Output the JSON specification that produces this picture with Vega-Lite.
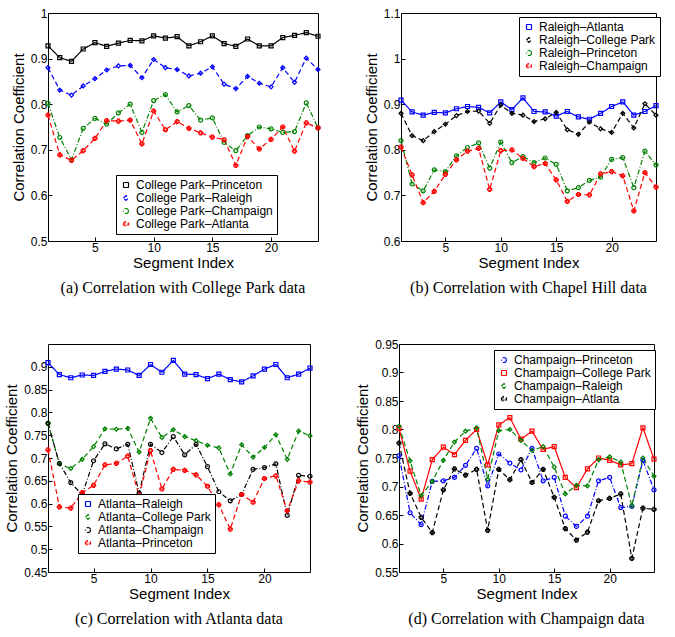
{
  "$schema": "https://vega.github.io/schema/vega-lite/v6.json",
  "background": "white",
  "padding": {"left": 4, "top": 6, "right": 2, "bottom": 0},
  "config": {
    "font": "Liberation Sans",
    "view": {"stroke": "black", "strokeWidth": 1},
    "axis": {"grid": false, "domain": false, "tickColor": "black", "ticks": true, "tickSize": -4, "labelFontSize": 12, "labelColor": "black", "titleFontSize": 15, "titleFontWeight": "normal", "titleColor": "black", "labelPadding": 5},
    "legend": {"orient": "none", "strokeColor": "black", "fillColor": "white", "padding": 4, "labelFontSize": 12, "labelColor": "black", "symbolSize": 25, "symbolStrokeWidth": 1.2, "rowPadding": 1, "cornerRadius": 0},
    "title": {"orient": "bottom", "font": "Liberation Serif", "fontSize": 16, "fontWeight": "normal", "offset": 10},
    "concat": {"spacing": 40}
  },
  "resolve": {"scale": {"color": "independent", "shape": "independent", "strokeDash": "independent", "y": "independent"}, "legend": {"color": "independent", "shape": "independent", "strokeDash": "independent"}},
  "datasets": {
    "a": [
      {"i":1,"College Park–Princeton":0.928,"College Park–Raleigh":0.880,"College Park–Champaign":0.802,"College Park–Atlanta":0.776},
      {"i":2,"College Park–Princeton":0.902,"College Park–Raleigh":0.831,"College Park–Champaign":0.727,"College Park–Atlanta":0.689},
      {"i":3,"College Park–Princeton":0.894,"College Park–Raleigh":0.820,"College Park–Champaign":0.678,"College Park–Atlanta":0.677},
      {"i":4,"College Park–Princeton":0.921,"College Park–Raleigh":0.840,"College Park–Champaign":0.747,"College Park–Atlanta":0.698},
      {"i":5,"College Park–Princeton":0.935,"College Park–Raleigh":0.856,"College Park–Champaign":0.769,"College Park–Atlanta":0.725},
      {"i":6,"College Park–Princeton":0.927,"College Park–Raleigh":0.875,"College Park–Champaign":0.756,"College Park–Atlanta":0.764},
      {"i":7,"College Park–Princeton":0.934,"College Park–Raleigh":0.884,"College Park–Champaign":0.781,"College Park–Atlanta":0.763},
      {"i":8,"College Park–Princeton":0.940,"College Park–Raleigh":0.885,"College Park–Champaign":0.800,"College Park–Atlanta":0.765},
      {"i":9,"College Park–Princeton":0.939,"College Park–Raleigh":0.858,"College Park–Champaign":0.738,"College Park–Atlanta":0.713},
      {"i":10,"College Park–Princeton":0.950,"College Park–Raleigh":0.898,"College Park–Champaign":0.808,"College Park–Atlanta":0.785},
      {"i":11,"College Park–Princeton":0.945,"College Park–Raleigh":0.880,"College Park–Champaign":0.821,"College Park–Atlanta":0.744},
      {"i":12,"College Park–Princeton":0.948,"College Park–Raleigh":0.876,"College Park–Champaign":0.783,"College Park–Atlanta":0.762},
      {"i":13,"College Park–Princeton":0.928,"College Park–Raleigh":0.862,"College Park–Champaign":0.797,"College Park–Atlanta":0.747},
      {"i":14,"College Park–Princeton":0.937,"College Park–Raleigh":0.868,"College Park–Champaign":0.765,"College Park–Atlanta":0.737},
      {"i":15,"College Park–Princeton":0.950,"College Park–Raleigh":0.882,"College Park–Champaign":0.770,"College Park–Atlanta":0.728},
      {"i":16,"College Park–Princeton":0.933,"College Park–Raleigh":0.844,"College Park–Champaign":0.716,"College Park–Atlanta":0.722},
      {"i":17,"College Park–Princeton":0.927,"College Park–Raleigh":0.834,"College Park–Champaign":0.698,"College Park–Atlanta":0.666},
      {"i":18,"College Park–Princeton":0.943,"College Park–Raleigh":0.861,"College Park–Champaign":0.731,"College Park–Atlanta":0.729},
      {"i":19,"College Park–Princeton":0.928,"College Park–Raleigh":0.846,"College Park–Champaign":0.750,"College Park–Atlanta":0.702},
      {"i":20,"College Park–Princeton":0.928,"College Park–Raleigh":0.838,"College Park–Champaign":0.746,"College Park–Atlanta":0.723},
      {"i":21,"College Park–Princeton":0.946,"College Park–Raleigh":0.880,"College Park–Champaign":0.738,"College Park–Atlanta":0.750},
      {"i":22,"College Park–Princeton":0.951,"College Park–Raleigh":0.848,"College Park–Champaign":0.740,"College Park–Atlanta":0.697},
      {"i":23,"College Park–Princeton":0.957,"College Park–Raleigh":0.901,"College Park–Champaign":0.803,"College Park–Atlanta":0.759},
      {"i":24,"College Park–Princeton":0.949,"College Park–Raleigh":0.876,"College Park–Champaign":0.748,"College Park–Atlanta":0.748}
    ],
    "b": [
      {"i":1,"Raleigh–Atlanta":0.909,"Raleigh–College Park":0.880,"Raleigh–Princeton":0.820,"Raleigh–Champaign":0.806},
      {"i":2,"Raleigh–Atlanta":0.883,"Raleigh–College Park":0.831,"Raleigh–Princeton":0.725,"Raleigh–Champaign":0.745},
      {"i":3,"Raleigh–Atlanta":0.876,"Raleigh–College Park":0.820,"Raleigh–Princeton":0.710,"Raleigh–Champaign":0.684},
      {"i":4,"Raleigh–Atlanta":0.882,"Raleigh–College Park":0.840,"Raleigh–Princeton":0.756,"Raleigh–Champaign":0.709},
      {"i":5,"Raleigh–Atlanta":0.881,"Raleigh–College Park":0.856,"Raleigh–Princeton":0.752,"Raleigh–Champaign":0.746},
      {"i":6,"Raleigh–Atlanta":0.890,"Raleigh–College Park":0.875,"Raleigh–Princeton":0.787,"Raleigh–Champaign":0.778},
      {"i":7,"Raleigh–Atlanta":0.895,"Raleigh–College Park":0.884,"Raleigh–Princeton":0.805,"Raleigh–Champaign":0.797},
      {"i":8,"Raleigh–Atlanta":0.893,"Raleigh–College Park":0.885,"Raleigh–Princeton":0.815,"Raleigh–Champaign":0.803},
      {"i":9,"Raleigh–Atlanta":0.881,"Raleigh–College Park":0.858,"Raleigh–Princeton":0.760,"Raleigh–Champaign":0.713},
      {"i":10,"Raleigh–Atlanta":0.905,"Raleigh–College Park":0.898,"Raleigh–Princeton":0.817,"Raleigh–Champaign":0.798},
      {"i":11,"Raleigh–Atlanta":0.888,"Raleigh–College Park":0.880,"Raleigh–Princeton":0.772,"Raleigh–Champaign":0.800},
      {"i":12,"Raleigh–Atlanta":0.914,"Raleigh–College Park":0.876,"Raleigh–Princeton":0.785,"Raleigh–Champaign":0.781},
      {"i":13,"Raleigh–Atlanta":0.884,"Raleigh–College Park":0.862,"Raleigh–Princeton":0.772,"Raleigh–Champaign":0.763},
      {"i":14,"Raleigh–Atlanta":0.883,"Raleigh–College Park":0.868,"Raleigh–Princeton":0.782,"Raleigh–Champaign":0.770},
      {"i":15,"Raleigh–Atlanta":0.874,"Raleigh–College Park":0.882,"Raleigh–Princeton":0.768,"Raleigh–Champaign":0.734},
      {"i":16,"Raleigh–Atlanta":0.884,"Raleigh–College Park":0.844,"Raleigh–Princeton":0.710,"Raleigh–Champaign":0.687},
      {"i":17,"Raleigh–Atlanta":0.872,"Raleigh–College Park":0.834,"Raleigh–Princeton":0.717,"Raleigh–Champaign":0.702},
      {"i":18,"Raleigh–Atlanta":0.867,"Raleigh–College Park":0.861,"Raleigh–Princeton":0.733,"Raleigh–Champaign":0.701},
      {"i":19,"Raleigh–Atlanta":0.880,"Raleigh–College Park":0.846,"Raleigh–Princeton":0.740,"Raleigh–Champaign":0.747},
      {"i":20,"Raleigh–Atlanta":0.895,"Raleigh–College Park":0.838,"Raleigh–Princeton":0.779,"Raleigh–Champaign":0.752},
      {"i":21,"Raleigh–Atlanta":0.905,"Raleigh–College Park":0.880,"Raleigh–Princeton":0.783,"Raleigh–Champaign":0.743},
      {"i":22,"Raleigh–Atlanta":0.876,"Raleigh–College Park":0.848,"Raleigh–Princeton":0.717,"Raleigh–Champaign":0.666},
      {"i":23,"Raleigh–Atlanta":0.884,"Raleigh–College Park":0.901,"Raleigh–Princeton":0.797,"Raleigh–Champaign":0.750},
      {"i":24,"Raleigh–Atlanta":0.897,"Raleigh–College Park":0.876,"Raleigh–Princeton":0.767,"Raleigh–Champaign":0.718}
    ],
    "c": [
      {"i":1,"Atlanta–Raleigh":0.909,"Atlanta–College Park":0.776,"Atlanta–Champaign":0.776,"Atlanta–Princeton":0.718},
      {"i":2,"Atlanta–Raleigh":0.883,"Atlanta–College Park":0.687,"Atlanta–Champaign":0.688,"Atlanta–Princeton":0.593},
      {"i":3,"Atlanta–Raleigh":0.876,"Atlanta–College Park":0.677,"Atlanta–Champaign":0.646,"Atlanta–Princeton":0.590},
      {"i":4,"Atlanta–Raleigh":0.882,"Atlanta–College Park":0.697,"Atlanta–Champaign":0.619,"Atlanta–Princeton":0.624},
      {"i":5,"Atlanta–Raleigh":0.881,"Atlanta–College Park":0.725,"Atlanta–Champaign":0.694,"Atlanta–Princeton":0.640},
      {"i":6,"Atlanta–Raleigh":0.890,"Atlanta–College Park":0.764,"Atlanta–Champaign":0.731,"Atlanta–Princeton":0.685},
      {"i":7,"Atlanta–Raleigh":0.895,"Atlanta–College Park":0.763,"Atlanta–Champaign":0.720,"Atlanta–Princeton":0.688},
      {"i":8,"Atlanta–Raleigh":0.893,"Atlanta–College Park":0.765,"Atlanta–Champaign":0.730,"Atlanta–Princeton":0.704},
      {"i":9,"Atlanta–Raleigh":0.881,"Atlanta–College Park":0.713,"Atlanta–Champaign":0.623,"Atlanta–Princeton":0.617},
      {"i":10,"Atlanta–Raleigh":0.905,"Atlanta–College Park":0.787,"Atlanta–Champaign":0.730,"Atlanta–Princeton":0.716},
      {"i":11,"Atlanta–Raleigh":0.888,"Atlanta–College Park":0.745,"Atlanta–Champaign":0.712,"Atlanta–Princeton":0.632},
      {"i":12,"Atlanta–Raleigh":0.914,"Atlanta–College Park":0.762,"Atlanta–Champaign":0.747,"Atlanta–Princeton":0.675},
      {"i":13,"Atlanta–Raleigh":0.884,"Atlanta–College Park":0.747,"Atlanta–Champaign":0.707,"Atlanta–Princeton":0.673},
      {"i":14,"Atlanta–Raleigh":0.883,"Atlanta–College Park":0.738,"Atlanta–Champaign":0.730,"Atlanta–Princeton":0.663},
      {"i":15,"Atlanta–Raleigh":0.874,"Atlanta–College Park":0.728,"Atlanta–Champaign":0.681,"Atlanta–Princeton":0.638},
      {"i":16,"Atlanta–Raleigh":0.884,"Atlanta–College Park":0.722,"Atlanta–Champaign":0.626,"Atlanta–Princeton":0.597},
      {"i":17,"Atlanta–Raleigh":0.872,"Atlanta–College Park":0.665,"Atlanta–Champaign":0.606,"Atlanta–Princeton":0.544},
      {"i":18,"Atlanta–Raleigh":0.867,"Atlanta–College Park":0.729,"Atlanta–Champaign":0.620,"Atlanta–Princeton":0.620},
      {"i":19,"Atlanta–Raleigh":0.880,"Atlanta–College Park":0.702,"Atlanta–Champaign":0.675,"Atlanta–Princeton":0.603},
      {"i":20,"Atlanta–Raleigh":0.895,"Atlanta–College Park":0.723,"Atlanta–Champaign":0.679,"Atlanta–Princeton":0.655},
      {"i":21,"Atlanta–Raleigh":0.905,"Atlanta–College Park":0.751,"Atlanta–Champaign":0.687,"Atlanta–Princeton":0.661},
      {"i":22,"Atlanta–Raleigh":0.876,"Atlanta–College Park":0.697,"Atlanta–Champaign":0.574,"Atlanta–Princeton":0.584},
      {"i":23,"Atlanta–Raleigh":0.884,"Atlanta–College Park":0.759,"Atlanta–Champaign":0.662,"Atlanta–Princeton":0.650},
      {"i":24,"Atlanta–Raleigh":0.897,"Atlanta–College Park":0.749,"Atlanta–Champaign":0.660,"Atlanta–Princeton":0.647}
    ],
    "d": [
      {"i":1,"Champaign–Princeton":0.754,"Champaign–College Park":0.802,"Champaign–Raleigh":0.806,"Champaign–Atlanta":0.776},
      {"i":2,"Champaign–Princeton":0.654,"Champaign–College Park":0.727,"Champaign–Raleigh":0.745,"Champaign–Atlanta":0.688},
      {"i":3,"Champaign–Princeton":0.633,"Champaign–College Park":0.678,"Champaign–Raleigh":0.684,"Champaign–Atlanta":0.646},
      {"i":4,"Champaign–Princeton":0.709,"Champaign–College Park":0.747,"Champaign–Raleigh":0.709,"Champaign–Atlanta":0.619},
      {"i":5,"Champaign–Princeton":0.710,"Champaign–College Park":0.769,"Champaign–Raleigh":0.746,"Champaign–Atlanta":0.694},
      {"i":6,"Champaign–Princeton":0.716,"Champaign–College Park":0.756,"Champaign–Raleigh":0.778,"Champaign–Atlanta":0.731},
      {"i":7,"Champaign–Princeton":0.737,"Champaign–College Park":0.781,"Champaign–Raleigh":0.797,"Champaign–Atlanta":0.720},
      {"i":8,"Champaign–Princeton":0.767,"Champaign–College Park":0.800,"Champaign–Raleigh":0.803,"Champaign–Atlanta":0.730},
      {"i":9,"Champaign–Princeton":0.701,"Champaign–College Park":0.738,"Champaign–Raleigh":0.713,"Champaign–Atlanta":0.623},
      {"i":10,"Champaign–Princeton":0.757,"Champaign–College Park":0.808,"Champaign–Raleigh":0.798,"Champaign–Atlanta":0.730},
      {"i":11,"Champaign–Princeton":0.741,"Champaign–College Park":0.821,"Champaign–Raleigh":0.800,"Champaign–Atlanta":0.712},
      {"i":12,"Champaign–Princeton":0.729,"Champaign–College Park":0.783,"Champaign–Raleigh":0.781,"Champaign–Atlanta":0.747},
      {"i":13,"Champaign–Princeton":0.767,"Champaign–College Park":0.797,"Champaign–Raleigh":0.763,"Champaign–Atlanta":0.707},
      {"i":14,"Champaign–Princeton":0.710,"Champaign–College Park":0.765,"Champaign–Raleigh":0.770,"Champaign–Atlanta":0.730},
      {"i":15,"Champaign–Princeton":0.716,"Champaign–College Park":0.770,"Champaign–Raleigh":0.734,"Champaign–Atlanta":0.681},
      {"i":16,"Champaign–Princeton":0.648,"Champaign–College Park":0.716,"Champaign–Raleigh":0.687,"Champaign–Atlanta":0.626},
      {"i":17,"Champaign–Princeton":0.630,"Champaign–College Park":0.698,"Champaign–Raleigh":0.702,"Champaign–Atlanta":0.606},
      {"i":18,"Champaign–Princeton":0.648,"Champaign–College Park":0.731,"Champaign–Raleigh":0.701,"Champaign–Atlanta":0.620},
      {"i":19,"Champaign–Princeton":0.710,"Champaign–College Park":0.750,"Champaign–Raleigh":0.747,"Champaign–Atlanta":0.675},
      {"i":20,"Champaign–Princeton":0.716,"Champaign–College Park":0.746,"Champaign–Raleigh":0.752,"Champaign–Atlanta":0.679},
      {"i":21,"Champaign–Princeton":0.663,"Champaign–College Park":0.738,"Champaign–Raleigh":0.743,"Champaign–Atlanta":0.687},
      {"i":22,"Champaign–Princeton":0.665,"Champaign–College Park":0.740,"Champaign–Raleigh":0.666,"Champaign–Atlanta":0.574},
      {"i":23,"Champaign–Princeton":0.746,"Champaign–College Park":0.803,"Champaign–Raleigh":0.750,"Champaign–Atlanta":0.662},
      {"i":24,"Champaign–Princeton":0.694,"Champaign–College Park":0.748,"Champaign–Raleigh":0.718,"Champaign–Atlanta":0.660}
    ]
  },
  "vconcat": [
    {"resolve": {"scale": {"color": "independent", "shape": "independent", "strokeDash": "independent", "y": "independent", "x": "independent"}, "legend": {"color": "independent", "shape": "independent", "strokeDash": "independent"}},
     "hconcat": [
      {
        "width": 270, "height": 228,
        "title": "(a)  Correlation with College Park data",
        "data": {"name": "a"},
        "transform": [{"fold": ["College Park–Princeton","College Park–Raleigh","College Park–Champaign","College Park–Atlanta"], "as": ["series","value"]}],
        "encoding": {
          "x": {"field": "i", "type": "quantitative", "scale": {"domain": [1,24], "nice": false, "zero": false}, "axis": {"values": [5,10,15,20], "title": "Segment Index", "titlePadding": 2}},
          "y": {"field": "value", "type": "quantitative", "scale": {"domain": [0.5,1]}, "axis": {"values": [0.5,0.6,0.7,0.8,0.9,1], "format": ".1~f", "title": "Correlation Coefficient"}},
          "color": {"field": "series", "type": "nominal", "sort": null, "scale": {"domain": ["College Park–Princeton","College Park–Raleigh","College Park–Champaign","College Park–Atlanta"], "range": ["black","blue","green","red"]}, "legend": {"title": null, "legendX": 68, "legendY": 162}}
        },
        "layer": [
          {"mark": {"type": "line", "strokeWidth": 1.2},
           "encoding": {"strokeDash": {"field": "series", "type": "nominal", "sort": null, "scale": {"domain": ["College Park–Princeton","College Park–Raleigh","College Park–Champaign","College Park–Atlanta"], "range": [[1,0],[5,3],[5,2,1,2],[5,3]]}, "legend": {"title": null, "legendX": 68, "legendY": 162}}}},
          {"mark": {"type": "point", "filled": false, "size": 16, "strokeWidth": 1.2, "opacity": 1},
           "encoding": {"shape": {"field": "series", "type": "nominal", "sort": null, "scale": {"domain": ["College Park–Princeton","College Park–Raleigh","College Park–Champaign","College Park–Atlanta"], "range": ["square","diamond","circle","cross"]}, "legend": {"title": null, "legendX": 68, "legendY": 162}}}}
        ]
      },
      {
        "width": 255, "height": 228,
        "title": "(b)  Correlation with Chapel Hill data",
        "data": {"name": "b"},
        "transform": [{"fold": ["Raleigh–Atlanta","Raleigh–College Park","Raleigh–Princeton","Raleigh–Champaign"], "as": ["series","value"]}],
        "encoding": {
          "x": {"field": "i", "type": "quantitative", "scale": {"domain": [1,24], "nice": false, "zero": false}, "axis": {"values": [5,10,15,20], "title": "Segment Index", "titlePadding": 2}},
          "y": {"field": "value", "type": "quantitative", "scale": {"domain": [0.6,1.1]}, "axis": {"values": [0.6,0.7,0.8,0.9,1,1.1], "format": ".1~f", "title": "Correlation Coefficient"}},
          "color": {"field": "series", "type": "nominal", "sort": null, "scale": {"domain": ["Raleigh–Atlanta","Raleigh–College Park","Raleigh–Princeton","Raleigh–Champaign"], "range": ["blue","black","green","red"]}, "legend": {"title": null, "legendX": 118, "legendY": 4}}
        },
        "layer": [
          {"mark": {"type": "line", "strokeWidth": 1.2},
           "encoding": {"strokeDash": {"field": "series", "type": "nominal", "sort": null, "scale": {"domain": ["Raleigh–Atlanta","Raleigh–College Park","Raleigh–Princeton","Raleigh–Champaign"], "range": [[1,0],[5,3],[5,2,1,2],[5,3]]}, "legend": {"title": null, "legendX": 118, "legendY": 4}}}},
          {"mark": {"type": "point", "filled": false, "size": 16, "strokeWidth": 1.2, "opacity": 1},
           "encoding": {"shape": {"field": "series", "type": "nominal", "sort": null, "scale": {"domain": ["Raleigh–Atlanta","Raleigh–College Park","Raleigh–Princeton","Raleigh–Champaign"], "range": ["square","diamond","circle","cross"]}, "legend": {"title": null, "legendX": 118, "legendY": 4}}}}
        ]
      }
    ]},
    {"resolve": {"scale": {"color": "independent", "shape": "independent", "strokeDash": "independent", "y": "independent", "x": "independent"}, "legend": {"color": "independent", "shape": "independent", "strokeDash": "independent"}},
     "hconcat": [
      {
        "width": 262, "height": 228,
        "title": "(c)  Correlation with Atlanta data",
        "data": {"name": "c"},
        "transform": [{"fold": ["Atlanta–Raleigh","Atlanta–College Park","Atlanta–Champaign","Atlanta–Princeton"], "as": ["series","value"]}],
        "encoding": {
          "x": {"field": "i", "type": "quantitative", "scale": {"domain": [1,24], "nice": false, "zero": false}, "axis": {"values": [5,10,15,20], "title": "Segment Index", "titlePadding": 2}},
          "y": {"field": "value", "type": "quantitative", "scale": {"domain": [0.45,0.95]}, "axis": {"values": [0.45,0.5,0.55,0.6,0.65,0.7,0.75,0.8,0.85,0.9], "format": ".2~f", "title": "Correlation Coefficient"}},
          "color": {"field": "series", "type": "nominal", "sort": null, "scale": {"domain": ["Atlanta–Raleigh","Atlanta–College Park","Atlanta–Champaign","Atlanta–Princeton"], "range": ["blue","green","black","red"]}, "legend": {"title": null, "legendX": 30, "legendY": 150}}
        },
        "layer": [
          {"mark": {"type": "line", "strokeWidth": 1.2},
           "encoding": {"strokeDash": {"field": "series", "type": "nominal", "sort": null, "scale": {"domain": ["Atlanta–Raleigh","Atlanta–College Park","Atlanta–Champaign","Atlanta–Princeton"], "range": [[1,0],[5,3],[5,2,1,2],[5,3]]}, "legend": {"title": null, "legendX": 30, "legendY": 150}}}},
          {"mark": {"type": "point", "filled": false, "size": 16, "strokeWidth": 1.2, "opacity": 1},
           "encoding": {"shape": {"field": "series", "type": "nominal", "sort": null, "scale": {"domain": ["Atlanta–Raleigh","Atlanta–College Park","Atlanta–Champaign","Atlanta–Princeton"], "range": ["square","diamond","circle","cross"]}, "legend": {"title": null, "legendX": 30, "legendY": 150}}}}
        ]
      },
      {
        "width": 255, "height": 228,
        "title": "(d)  Correlation with Champaign data",
        "data": {"name": "d"},
        "transform": [{"fold": ["Champaign–Princeton","Champaign–College Park","Champaign–Raleigh","Champaign–Atlanta"], "as": ["series","value"]}],
        "encoding": {
          "x": {"field": "i", "type": "quantitative", "scale": {"domain": [1,24], "nice": false, "zero": false}, "axis": {"values": [5,10,15,20], "title": "Segment Index", "titlePadding": 2}},
          "y": {"field": "value", "type": "quantitative", "scale": {"domain": [0.55,0.95]}, "axis": {"values": [0.55,0.6,0.65,0.7,0.75,0.8,0.85,0.9,0.95], "format": ".2~f", "title": "Correlation Coefficient"}},
          "color": {"field": "series", "type": "nominal", "sort": null, "scale": {"domain": ["Champaign–Princeton","Champaign–College Park","Champaign–Raleigh","Champaign–Atlanta"], "range": ["blue","red","green","black"]}, "legend": {"title": null, "legendX": 95, "legendY": 6}}
        },
        "layer": [
          {"mark": {"type": "line", "strokeWidth": 1.2},
           "encoding": {"strokeDash": {"field": "series", "type": "nominal", "sort": null, "scale": {"domain": ["Champaign–Princeton","Champaign–College Park","Champaign–Raleigh","Champaign–Atlanta"], "range": [[5,2,1,2],[1,0],[5,3],[5,3]]}, "legend": {"title": null, "legendX": 95, "legendY": 6}}}},
          {"mark": {"type": "point", "filled": false, "size": 16, "strokeWidth": 1.2, "opacity": 1},
           "encoding": {"shape": {"field": "series", "type": "nominal", "sort": null, "scale": {"domain": ["Champaign–Princeton","Champaign–College Park","Champaign–Raleigh","Champaign–Atlanta"], "range": ["circle","square","diamond","cross"]}, "legend": {"title": null, "legendX": 95, "legendY": 6}}}}
        ]
      }
    ]}
  ]
}
